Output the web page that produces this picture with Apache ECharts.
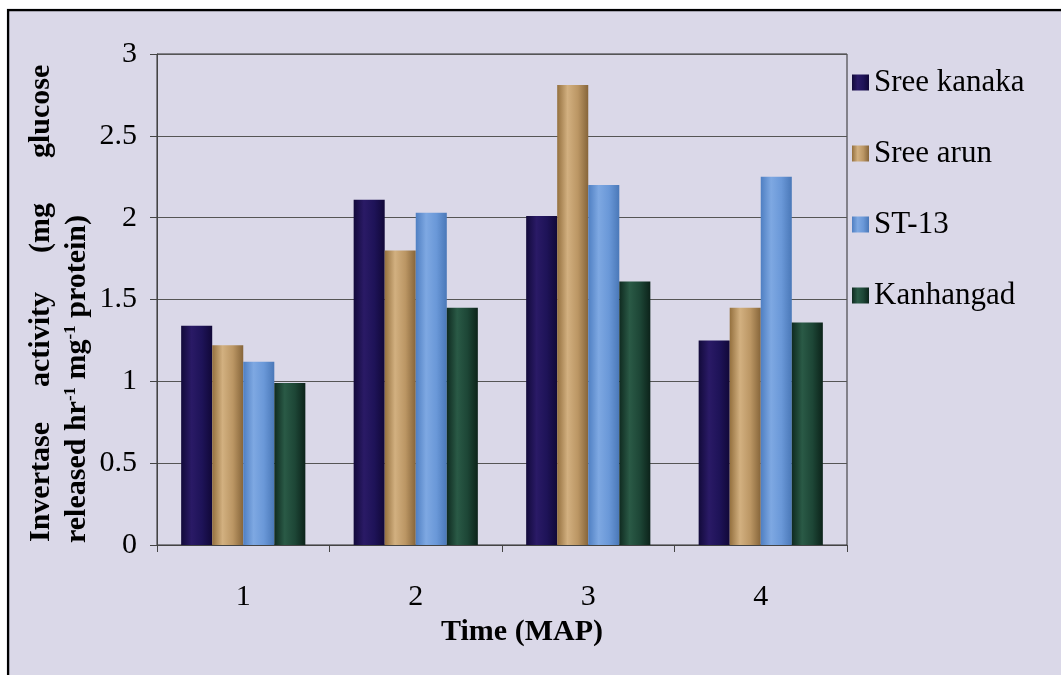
<!DOCTYPE html>
<html>
<head>
<meta charset="utf-8">
<script src="https://cdn.jsdelivr.net/npm/echarts@6/dist/echarts.min.js"></script>
<style>
  html, body { margin: 0; padding: 0; background: #ffffff; }
  #chart { width: 1061px; height: 675px; }
</style>
</head>
<body>
<div id="chart"></div>
<script>
// ---- data ----
const categories = ['1', '2', '3', '4'];
const seriesNames = ['Sree kanaka', 'Sree arun', 'ST-13', 'Kanhangad'];
const sreeKanaka = [1.34, 2.11, 2.01, 1.25];
const sreeArun = [1.22, 1.80, 2.81, 1.45];
const st13 = [1.12, 2.03, 2.20, 2.25];
const kanhangad = [0.99, 1.45, 1.61, 1.36];
const yMin = 0, yMax = 3, yStep = 0.5;
const xTitle = 'Time (MAP)';
const yTitleLine1 = ['Invertase', 'activity', '(mg', 'glucose'];
const yTitleLine2 = 'released hr{s|-1} mg{s|-1} protein)';

const FONT = 'Liberation Serif';
const BG = '#dad8e8';

function grad(stops) {
  return new echarts.graphic.LinearGradient(0, 0, 1, 0,
    stops.map((c, i) => ({ offset: i / (stops.length - 1), color: c })));
}
const colors = [
  grad(['#120a3a', '#2a1a66', '#1e1358', '#110838']),
  grad(['#94703e', '#d2b080', '#bb9664', '#86653a']),
  grad(['#4f7fc2', '#7ea8e2', '#6a98d8', '#4a78b8']),
  grad(['#0f2a20', '#2a5a46', '#1d4636', '#0c231a'])
];
const dataSets = [sreeKanaka, sreeArun, st13, kanhangad];

const chart = echarts.init(document.getElementById('chart'), null, { renderer: 'canvas' });

const graphics = [
  { type: 'rect', z: 100, shape: { x: 8, y: 10, width: 1100, height: 700 },
    style: { fill: 'none', stroke: '#000', lineWidth: 2.5 } },
  { type: 'rect', z: 100, shape: { x: 0, y: 0, width: 1061, height: 8.8 }, style: { fill: '#fff' } },
  { type: 'rect', z: 100, shape: { x: 0, y: 0, width: 6.8, height: 675 }, style: { fill: '#fff' } }
];
const line1Bottoms = [542, 387, 253, 158];
yTitleLine1.forEach((w, i) => {
  graphics.push({
    type: 'text', x: 41, y: line1Bottoms[i], rotation: Math.PI / 2,
    style: { text: w, fontSize: 30, fontWeight: 'bold', fontFamily: FONT, fill: '#000',
      align: 'left', verticalAlign: 'middle', textAlign: 'left', textVerticalAlign: 'middle' }
  });
});
graphics.push({
  type: 'text', x: 77, y: 543, rotation: Math.PI / 2,
  style: { text: yTitleLine2, fontSize: 30, fontWeight: 'bold', fontFamily: FONT, fill: '#000',
    align: 'left', verticalAlign: 'middle', textAlign: 'left', textVerticalAlign: 'middle',
    rich: { s: { fontSize: 17, fontWeight: 'bold', fontFamily: FONT, fill: '#000', verticalAlign: 'top' } } }
});

const option = {
  backgroundColor: BG,
  animation: false,
  textStyle: { fontFamily: FONT },
  grid: { left: 157, right: 214, top: 54, bottom: 130, show: true, borderColor: '#2a2a2a', borderWidth: 1 },
  legend: {
    orient: 'vertical', left: 852, top: 67, padding: 0,
    itemWidth: 17, itemHeight: 16, itemGap: 40, icon: 'rect',
    textStyle: { fontSize: 31, color: '#000', fontFamily: FONT },
    data: seriesNames
  },
  xAxis: {
    type: 'category', data: categories,
    axisLine: { lineStyle: { color: '#444', width: 1 } },
    axisTick: { show: true, length: 7, lineStyle: { color: '#444' } },
    axisLabel: { fontSize: 30, color: '#000', margin: 37, fontFamily: FONT },
    name: xTitle, nameLocation: 'middle', nameGap: 57,
    nameTextStyle: { fontSize: 30, fontWeight: 'bold', color: '#000', fontFamily: FONT, padding: [0, 0, 0, 40] }
  },
  yAxis: {
    type: 'value', min: yMin, max: yMax, interval: yStep,
    axisLine: { show: true, lineStyle: { color: '#444', width: 1 } },
    axisTick: { show: true, length: 7, lineStyle: { color: '#444' } },
    axisLabel: { fontSize: 30, color: '#000', margin: 20, fontFamily: FONT },
    splitLine: { lineStyle: { color: '#555', width: 1 } }
  },
  graphic: graphics,
  series: seriesNames.map((n, i) => ({
    name: n, type: 'bar', data: dataSets[i],
    barGap: '0%', barCategoryGap: '28%',
    itemStyle: { color: colors[i] }
  }))
};
chart.setOption(option);
</script>
</body>
</html>
